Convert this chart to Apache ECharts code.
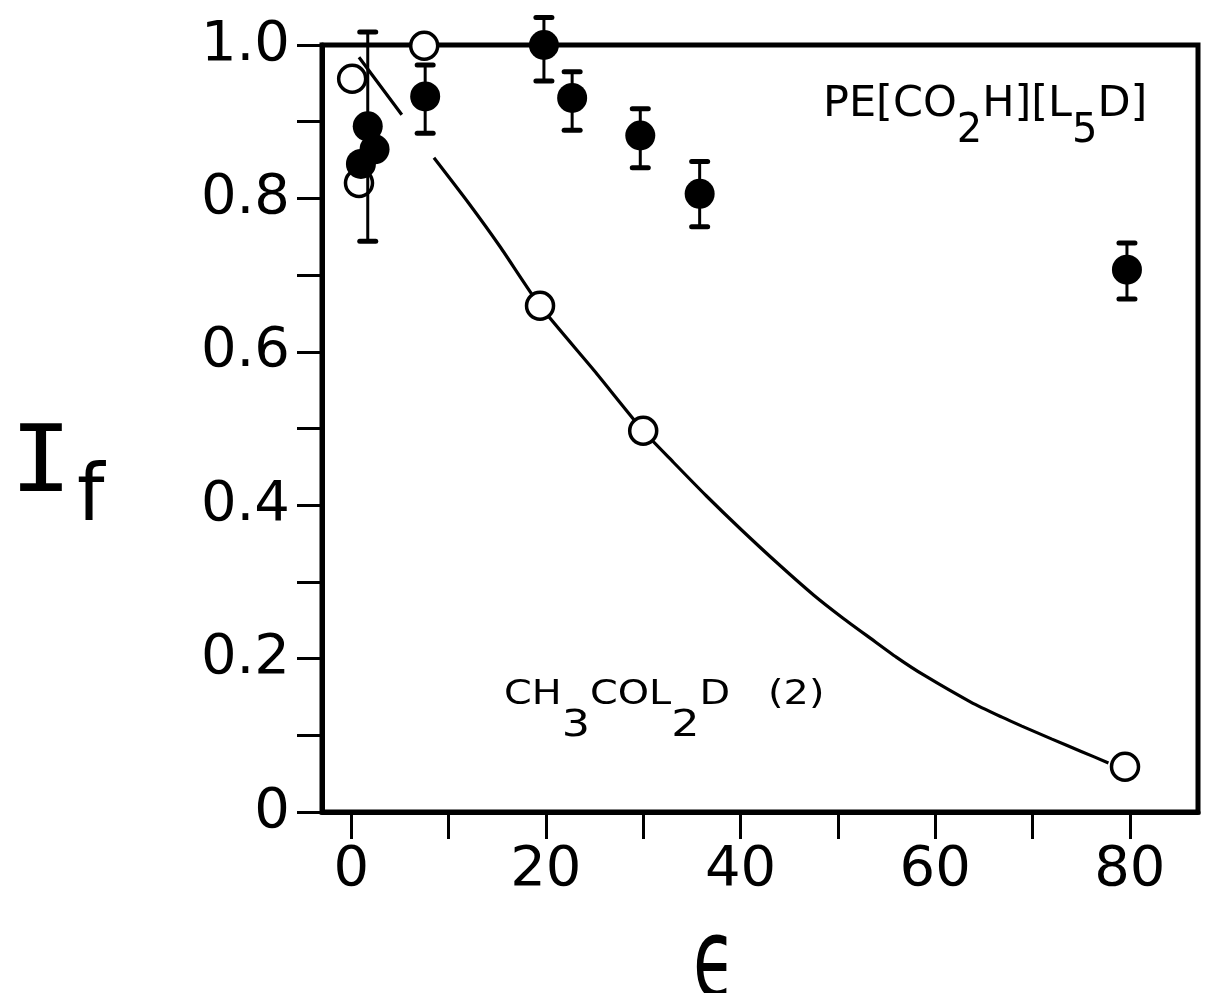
<!DOCTYPE html>
<html>
<head>
<meta charset="utf-8">
<script src="https://cdn.jsdelivr.net/npm/echarts@6/dist/echarts.min.js"></script>
<style>
html,body{margin:0;padding:0;background:#fff;}
#chart{width:1215px;height:993px;}
</style>
</head>
<body>
<div id="chart"></div>
<script>
// ---- data ----
// filled points (with error bars)
const filledEps = [1.0, 1.7, 2.4, 7.6, 19.8, 22.7, 29.7, 35.8, 79.7];
const filledIf  = [0.845, 0.894, 0.864, 0.933, 1.0, 0.931, 0.882, 0.806, 0.707];
const filledLo  = [null, 0.744, null, 0.885, 0.953, 0.889, 0.840, 0.763, 0.669];
const filledHi  = [null, 1.017, null, 0.974, 1.036, 0.965, 0.917, 0.848, 0.742];
// open points
const openEps = [0.1, 0.8, 7.5, 19.4, 30.0, 79.5];
const openIf  = [0.956, 0.820, 0.999, 0.660, 0.497, 0.059];
// curve through open points (null = gap in drawn line)
const curveEps = [0.8, 5.2, 6.8, 8.5, 12.0, 15.3, 19.4, 25.0, 30.0, 33.1, 36.5, 40.0, 44.0, 47.5, 50.5, 53.4, 56.0, 58.9, 63.7, 66.8, 68.9, 72.0, 75.0, 77.8];
const curveIf  = [0.984, 0.909, null, 0.853, 0.795, 0.737, 0.660, 0.575, 0.497, 0.456, 0.412, 0.369, 0.322, 0.283, 0.253, 0.226, 0.202, 0.178, 0.143, 0.124, 0.112, 0.095, 0.079, 0.064];
// ticks
const xTickValues  = [0, 10, 20, 30, 40, 50, 60, 70, 80];
const xLabelValues = [0, 20, 40, 60, 80];
const yLabelValues = [0, 0.2, 0.4, 0.6, 0.8, 1.0];
const yLabelTexts  = ['0', '0.2', '0.4', '0.6', '0.8', '1.0'];

const chart = echarts.init(document.getElementById('chart'));
const FONT = 'DejaVu Sans';

const curveData = curveEps.map((x, i) => [x, curveIf[i] === null ? '-' : curveIf[i]]);
const openData = openEps.map((x, i) => [x, openIf[i]]);
const filledData = filledEps.map((x, i) => [x, filledIf[i]]);
const errData = [];
filledEps.forEach((x, i) => { if (filledLo[i] !== null) errData.push([x, filledLo[i], filledHi[i]]); });

const option = {
  backgroundColor: '#fff',
  animation: false,
  grid: {
    left: 322, right: 17, top: 45, bottom: 181,
    show: true, borderColor: '#000', borderWidth: 5, backgroundColor: 'transparent'
  },
  xAxis: {
    type: 'value', min: -3, max: 87,
    axisLine: { show: true, onZero: false, lineStyle: { color: '#000', width: 5 } },
    axisTick: { show: true, inside: false, length: 27, customValues: xTickValues, lineStyle: { color: '#000', width: 3 } },
    axisLabel: { show: true, customValues: xLabelValues, margin: 30, color: '#000', fontSize: 56, fontFamily: FONT },
    splitLine: { show: false }
  },
  yAxis: {
    type: 'value', min: 0, max: 1.0, interval: 0.1,
    axisLine: { show: true, onZero: false, lineStyle: { color: '#000', width: 5 } },
    axisTick: { show: true, inside: false, length: 25, lineStyle: { color: '#000', width: 3 } },
    axisLabel: {
      show: true, customValues: yLabelValues, margin: 32, color: '#000', fontSize: 56, fontFamily: FONT,
      formatter: function (v) {
        let best = 0;
        yLabelValues.forEach((t, i) => { if (Math.abs(t - v) < Math.abs(yLabelValues[best] - v)) best = i; });
        return yLabelTexts[best];
      }
    },
    splitLine: { show: false }
  },
  series: [
    {
      type: 'line', data: curveData, smooth: 0.2, showSymbol: false, connectNulls: false,
      lineStyle: { color: '#000', width: 3.2 }, z: 2, clip: false
    },
    {
      type: 'scatter', data: openData, symbol: 'circle', symbolSize: 27,
      itemStyle: { color: '#fff', borderColor: '#000', borderWidth: 3.5, opacity: 1 }, z: 3, clip: false
    },
    {
      type: 'custom', data: errData, z: 4, clip: false,
      renderItem: function (params, api) {
        const x = api.value(0);
        const pLo = api.coord([x, api.value(1)]);
        const pHi = api.coord([x, api.value(2)]);
        const w = 8;
        return {
          type: 'group',
          children: [
            { type: 'line', shape: { x1: pLo[0], y1: pLo[1], x2: pHi[0], y2: pHi[1] }, style: { stroke: '#000', lineWidth: 3 } },
            { type: 'line', shape: { x1: pLo[0] - w, y1: pLo[1], x2: pLo[0] + w, y2: pLo[1] }, style: { stroke: '#000', lineWidth: 5, lineCap: 'round' } },
            { type: 'line', shape: { x1: pHi[0] - w, y1: pHi[1], x2: pHi[0] + w, y2: pHi[1] }, style: { stroke: '#000', lineWidth: 5, lineCap: 'round' } }
          ]
        };
      }
    },
    {
      type: 'scatter', data: filledData, symbol: 'circle', symbolSize: 30,
      itemStyle: { color: '#000', opacity: 1 }, z: 5, clip: false
    }
  ],
  graphic: [
    { type: 'text', x: 10, y: 421, scaleX: 1.12, style: { text: 'I', fontFamily: 'DejaVu Sans Mono', fontSize: 92, fill: '#000' } },
    { type: 'text', x: 77, y: 461, style: { text: 'f', fontFamily: FONT, fontSize: 78, fill: '#000' } },
    { type: 'text', x: 693, y: 912, scaleX: 0.62, style: { text: 'ϵ', fontFamily: FONT, fontSize: 112, fill: '#000' } },
    {
      type: 'text', x: 823, y: 83,
      style: {
        text: '{m|PE[CO}{s|2}{m|H][L}{s|5}{m|D]}',
        fill: '#000',
        rich: {
          m: { fontFamily: FONT, fontSize: 43, lineHeight: 43, verticalAlign: 'top', fill: '#000' },
          s: { fontFamily: FONT, fontSize: 40, lineHeight: 40, verticalAlign: 'top', padding: [29, 0, 0, 0], fill: '#000' }
        }
      }
    },
    {
      type: 'text', x: 504, y: 678, scaleX: 1.17,
      style: {
        text: '{m|CH}{s|3}{m|COL}{s|2}{m|D   (2)}',
        fill: '#000',
        rich: {
          m: { fontFamily: FONT, fontSize: 34, lineHeight: 34, verticalAlign: 'top', fill: '#000' },
          s: { fontFamily: FONT, fontSize: 38, lineHeight: 38, verticalAlign: 'top', padding: [29, 0, 0, 0], fill: '#000' }
        }
      }
    }
  ]
};
chart.setOption(option);
</script>
</body>
</html>
